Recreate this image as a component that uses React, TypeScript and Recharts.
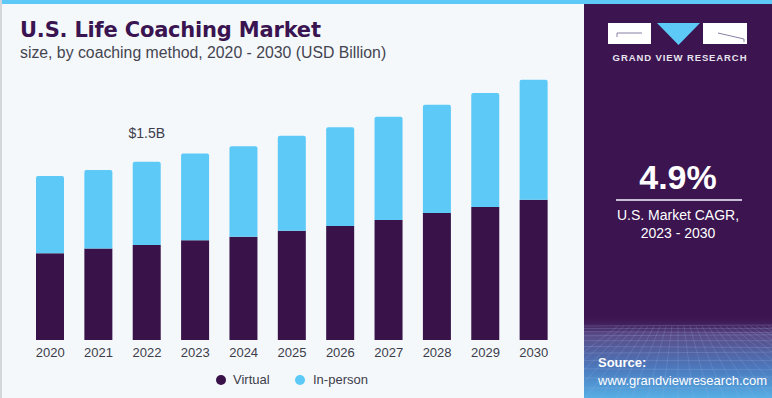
import React from "react";
import { BarChart, Bar, XAxis, YAxis, LabelList } from "recharts";

const years = ["2020", "2021", "2022", "2023", "2024", "2025", "2026", "2027", "2028", "2029", "2030"];
const virtual = [0.73, 0.77, 0.8, 0.84, 0.87, 0.92, 0.96, 1.01, 1.07, 1.12, 1.18];
const inPerson = [0.65, 0.66, 0.7, 0.73, 0.76, 0.8, 0.83, 0.87, 0.91, 0.96, 1.01];
const seriesNames = ["Virtual", "In-person"];
const highlightLabel = "$1.5B";
const highlightIndex = 2;

const DARK = "#381249";
const BLUE = "#5cc9f6";
const FONT = "'Liberation Sans', Arial, sans-serif";

const data = years.map((y, i) => ({ year: y, virtual: virtual[i], inPerson: inPerson[i] }));

const TopLabel = (props: any) => {
  const { x, y, width, index } = props;
  if (index !== highlightIndex) return null;
  return (
    <text x={x + width / 2} y={y - 24} textAnchor="middle" fontSize={14} fill="#3d3d4a" fontFamily={FONT}>
      {highlightLabel}
    </text>
  );
};

const GridDecor = () => {
  const lines: React.ReactNode[] = [];
  for (let i = 0; i < 14; i++) {
    const y = 322 + i * i * 0.42 + i * 2;
    lines.push(<line key={"h" + i} x1={0} x2={188} y1={y} y2={y + (i % 3) - 1} stroke="#9fb6e6" strokeOpacity={0.35} strokeWidth={0.7} />);
  }
  for (let i = -10; i < 30; i++) {
    const xTop = 94 + i * 6;
    const xBot = 94 + i * 16;
    lines.push(<line key={"v" + i} x1={xTop} y1={322} x2={xBot} y2={398} stroke="#9fb6e6" strokeOpacity={0.3} strokeWidth={0.7} />);
  }
  return (
    <svg width={188} height={398} style={{ position: "absolute", left: 0, top: 0 }}>
      <defs>
        <linearGradient id="gbot" x1="0" y1="0" x2="0" y2="1">
          <stop offset="0" stopColor="#3b1450" stopOpacity={0} />
          <stop offset="0.78" stopColor="#3b1450" stopOpacity={0} />
          <stop offset="0.83" stopColor="#5a4a86" />
          <stop offset="0.92" stopColor="#4b7cc0" />
          <stop offset="1" stopColor="#58b6ea" />
        </linearGradient>
      </defs>
      <rect x={0} y={0} width={188} height={398} fill="url(#gbot)" />
      {lines}
    </svg>
  );
};

export default function App() {
  return (
    <div style={{ position: "fixed", left: 0, top: 0, width: 772, height: 398, background: "#f4f8fb", overflow: "hidden", fontFamily: FONT }}>
      <div style={{ position: "absolute", left: 0, top: 0, width: 772, height: 4, background: BLUE }} />
      <div style={{ position: "absolute", left: 0, top: 0, width: 2, height: 398, background: "#d4d6d9" }} />
      <div style={{ position: "absolute", left: 20, top: 18, fontSize: 21, fontWeight: 700, color: "#3a1450", whiteSpace: "nowrap", fontFamily: "'DejaVu Sans', sans-serif", letterSpacing: -0.2 }}>
        U.S. Life Coaching Market
      </div>
      <div style={{ position: "absolute", left: 20, top: 44, fontSize: 15.8, color: "#444450", whiteSpace: "nowrap" }}>
        size, by coaching method, 2020 - 2030 (USD Billion)
      </div>

      <div style={{ position: "absolute", left: 0, top: 0 }}>
        <BarChart width={584} height={398} data={data} margin={{ top: 43, right: 26, bottom: 28, left: 26 }} barSize={28} barCategoryGap={0}>
          <XAxis dataKey="year" axisLine={false} tickLine={false} height={30} interval={0}
            tick={{ fontSize: 13, fill: "#3d3d4a", fontFamily: FONT }} />
          <YAxis hide domain={[0, 2.5]} />
          <Bar dataKey="virtual" stackId="a" fill={DARK} isAnimationActive={false} name={seriesNames[0]} />
          <Bar dataKey="inPerson" stackId="a" fill={BLUE} radius={[2, 2, 0, 0]} isAnimationActive={false} name={seriesNames[1]}>
            <LabelList dataKey="inPerson" content={<TopLabel />} />
          </Bar>
        </BarChart>
      </div>

      <div style={{ position: "absolute", left: 216, top: 375, width: 10, height: 10, borderRadius: 5, background: DARK }} />
      <div style={{ position: "absolute", left: 233, top: 372, fontSize: 13, color: "#3d3d4a" }}>{seriesNames[0]}</div>
      <div style={{ position: "absolute", left: 295, top: 375, width: 10, height: 10, borderRadius: 5, background: BLUE }} />
      <div style={{ position: "absolute", left: 313, top: 372, fontSize: 13, color: "#3d3d4a" }}>{seriesNames[1]}</div>

      <div style={{ position: "absolute", left: 584, top: 4, width: 188, height: 394, background: "#3b1450", overflow: "hidden" }}>
        <GridDecor />
      </div>
      <div style={{ position: "absolute", left: 584, top: 0, width: 188, height: 398 }}>
        <svg width={188} height={80} style={{ position: "absolute", left: 0, top: 0 }}>
          <rect x={24} y={23} width={43} height={21} fill="#ffffff" />
          <polyline points="33,37 33,33 58,33" fill="none" stroke="#8a7fa5" strokeWidth={1} />
          <polygon points="73,23 116,23 94.5,45" fill={BLUE} />
          <rect x={119} y={23} width={44} height={21} fill="#ffffff" />
          <polyline points="134,33 160,39 160,42" fill="none" stroke="#8a7fa5" strokeWidth={1} />
        </svg>
        <div style={{ position: "absolute", left: 0, top: 52, width: 188, textAlign: "center", paddingLeft: 2, fontSize: 9.5, fontWeight: 700, color: "#e8e4ee", letterSpacing: 0.9, whiteSpace: "nowrap" }}>
          GRAND VIEW RESEARCH
        </div>
        <div style={{ position: "absolute", left: 0, top: 158, width: 188, textAlign: "center", fontSize: 34, fontWeight: 700, color: "#ffffff" }}>
          4.9%
        </div>
        <div style={{ position: "absolute", left: 32, top: 199, width: 126, height: 2, background: "#c9bcd6" }} />
        <div style={{ position: "absolute", left: 0, top: 206, width: 188, textAlign: "center", fontSize: 14, lineHeight: "18px", color: "#ffffff" }}>
          U.S. Market CAGR,<br />2023 - 2030
        </div>
        <div style={{ position: "absolute", left: 14, top: 354, fontSize: 13, lineHeight: "18px", color: "#ffffff", whiteSpace: "nowrap" }}>
          <b>Source:</b><br />www.grandviewresearch.com
        </div>
      </div>
    </div>
  );
}
